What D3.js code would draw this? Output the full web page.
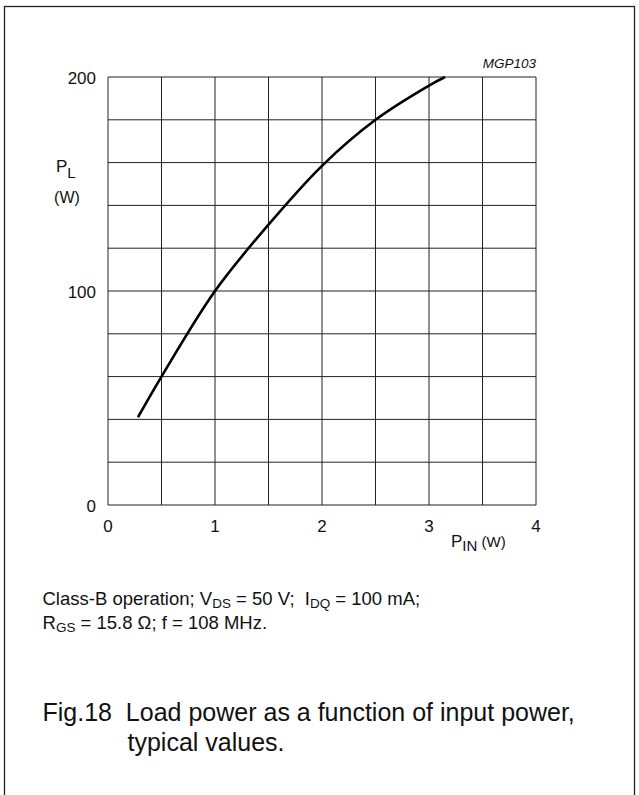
<!DOCTYPE html>
<html>
<head>
<meta charset="utf-8">
<script src="https://cdn.jsdelivr.net/npm/d3@7"></script>
<style>
  html, body { margin: 0; padding: 0; background: #fff; }
  svg { display: block; font-family: "Liberation Sans", Arial, sans-serif; }
</style>
</head>
<body>
<svg id="chart" width="639" height="795"></svg>
<script>
// Data
const pinValues = [0.28, 0.5, 1.0, 1.5, 2.0, 2.5, 3.0, 3.15];   // P_IN (W)
const plValues  = [41, 60, 100, 131, 158.5, 180, 196, 200];     // P_L (W)
const xTicks = [0, 1, 2, 3, 4];
const yTicks = [0, 100, 200];
const xGrid = [0, 0.5, 1, 1.5, 2, 2.5, 3, 3.5, 4];
const yGrid = [0, 20, 40, 60, 80, 100, 120, 140, 160, 180, 200];

const svg = d3.select("#chart");

// outer frame
svg.append("rect")
  .attr("x", 4.5).attr("y", 6.5).attr("width", 630).attr("height", 800)
  .attr("fill", "none").attr("stroke", "#222").attr("stroke-width", 1.3);

const x = d3.scaleLinear().domain([0, 4]).range([108, 536]);
const y = d3.scaleLinear().domain([0, 200]).range([505, 77]);

// grid
svg.append("g").selectAll("line").data(xGrid).join("line")
  .attr("x1", d => x(d)).attr("x2", d => x(d))
  .attr("y1", y(0)).attr("y2", y(200))
  .attr("stroke", "#222").attr("stroke-width", 1);
svg.append("g").selectAll("line").data(yGrid).join("line")
  .attr("y1", d => y(d)).attr("y2", d => y(d))
  .attr("x1", x(0)).attr("x2", x(4))
  .attr("stroke", "#222").attr("stroke-width", 1);

// axes tick labels
svg.append("g").selectAll("text").data(yTicks).join("text")
  .attr("x", x(0) - 12).attr("y", d => y(d) + 6.5)
  .attr("text-anchor", "end").attr("font-size", 17).attr("fill", "#111")
  .text(d => d);
svg.append("g").selectAll("text").data(xTicks).join("text")
  .attr("x", d => x(d)).attr("y", y(0) + 26.5)
  .attr("text-anchor", "middle").attr("font-size", 17).attr("fill", "#111")
  .text(d => d);

// curve
const line = d3.line().x(d => x(d[0])).y(d => y(d[1])).curve(d3.curveCatmullRom.alpha(0.5));
svg.append("path")
  .datum(pinValues.map((p, i) => [p, plValues[i]]))
  .attr("d", line).attr("fill", "none").attr("stroke", "#000").attr("stroke-width", 2.6);

// code label
svg.append("text").attr("x", x(4)).attr("y", 68)
  .attr("text-anchor", "end").attr("font-size", 13.5).attr("font-style", "italic").attr("fill", "#111")
  .text("MGP103");

// y axis label
const yl = svg.append("text").attr("x", 56).attr("y", 172).attr("font-size", 17).attr("fill", "#111");
yl.append("tspan").text("P");
yl.append("tspan").attr("dy", 6).attr("font-size", 15).text("L");
svg.append("text").attr("x", 67).attr("y", 203).attr("text-anchor", "middle")
  .attr("font-size", 16).attr("fill", "#111").text("(W)");

// x axis label
const xl = svg.append("text").attr("x", 451).attr("y", 547).attr("font-size", 17).attr("fill", "#111");
xl.append("tspan").text("P");
xl.append("tspan").attr("dy", 4).attr("font-size", 15).text("IN");
xl.append("tspan").attr("dy", -4).attr("font-size", 15).text(" (W)");

// caption
const c1 = svg.append("text").attr("x", 42.5).attr("y", 605).attr("font-size", 18.5).attr("fill", "#111");
c1.append("tspan").text("Class-B operation; V");
c1.append("tspan").attr("dy", 3).attr("font-size", 13.5).text("DS");
c1.append("tspan").attr("dy", -3).text(" = 50 V;\u00a0\u00a0I");
c1.append("tspan").attr("dy", 3).attr("font-size", 13.5).text("DQ");
c1.append("tspan").attr("dy", -3).text(" = 100 mA;");

const c2 = svg.append("text").attr("x", 42.5).attr("y", 629).attr("font-size", 18.5).attr("fill", "#111");
c2.append("tspan").text("R");
c2.append("tspan").attr("dy", 3).attr("font-size", 13.5).text("GS");
c2.append("tspan").attr("dy", -3).text(" = 15.8 \u03a9; f = 108 MHz.");

// figure title
svg.append("text").attr("x", 42.5).attr("y", 721).attr("font-size", 25).attr("fill", "#111")
  .attr("xml:space", "preserve").style("white-space", "pre")
  .text("Fig.18  Load power as a function of input power,");
svg.append("text").attr("x", 127.5).attr("y", 751).attr("font-size", 25).attr("fill", "#111")
  .text("typical values.");
</script>
</body>
</html>
